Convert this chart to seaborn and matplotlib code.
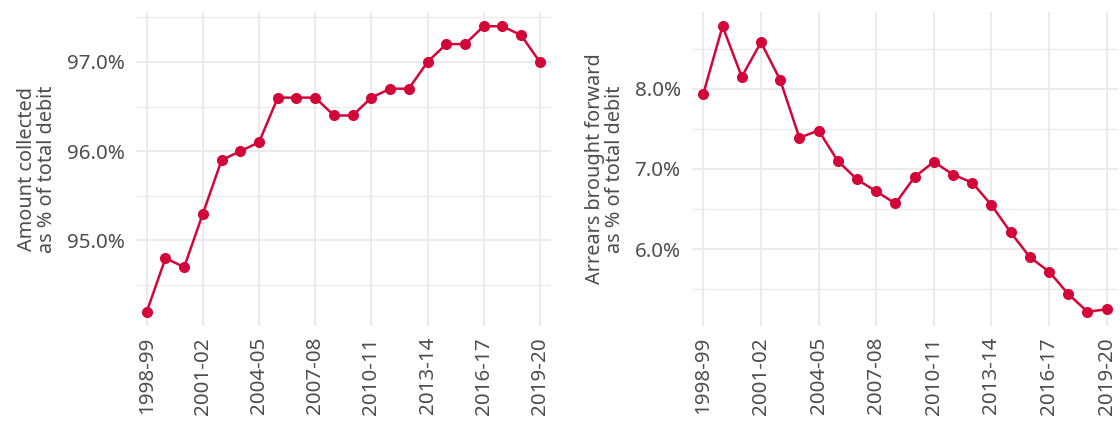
import seaborn as sns
import matplotlib.pyplot as plt
import pandas as pd
from matplotlib.ticker import FuncFormatter, MultipleLocator

# --- data ---
years = ['1998-99', '1999-00', '2000-01', '2001-02', '2002-03', '2003-04',
         '2004-05', '2005-06', '2006-07', '2007-08', '2008-09', '2009-10',
         '2010-11', '2011-12', '2012-13', '2013-14', '2014-15', '2015-16',
         '2016-17', '2017-18', '2018-19', '2019-20']
collected_pct = [94.2, 94.8, 94.7, 95.3, 95.9, 96.0, 96.1, 96.6, 96.6, 96.6, 96.4,
                 96.4, 96.6, 96.7, 96.7, 97.0, 97.2, 97.2, 97.4, 97.4, 97.3, 97.0]
arrears_pct = [7.94, 8.78, 8.15, 8.58, 8.11, 7.39, 7.48, 7.10, 6.87, 6.72, 6.57,
               6.90, 7.09, 6.93, 6.83, 6.55, 6.21, 5.90, 5.72, 5.44, 5.22, 5.25]
shown_years = years[::3]

RED = '#D3063A'
TEXT = '#4D4D4D'
GRID = '#EBEBEB'

sns.set_theme(style="white")
plt.rcParams['font.family'] = ['Noto Sans', 'DejaVu Sans']

df = pd.DataFrame({'year': years, 'collected': collected_pct, 'arrears': arrears_pct})
df['pos'] = range(len(years))

fig = plt.figure(figsize=(11.2, 4.21), dpi=100)
ax1 = fig.add_axes([0.121, 0.2257, 0.371, 0.7458])
ax2 = fig.add_axes([0.6177, 0.2257, 0.3807, 0.7458])


def style_panel(ax, col, ylabel, major_ticks):
    sns.lineplot(data=df, x='pos', y=col, ax=ax, color=RED, linewidth=1.8,
                 marker='o', markersize=8, markeredgewidth=0, zorder=3)
    vals = df[col]
    rng = vals.max() - vals.min()
    ax.set_ylim(vals.min() - 0.05 * rng, vals.max() + 0.05 * rng)
    ax.set_xlim(-0.6, len(years) - 1 + 0.6)

    ax.set_yticks(major_ticks)
    ax.yaxis.set_minor_locator(MultipleLocator(0.5))
    ax.yaxis.set_major_formatter(FuncFormatter(lambda v, _: f'{v:.1f}%'))
    ax.set_xticks(range(0, len(years), 3))
    ax.set_xticklabels(shown_years, rotation=90)

    ax.grid(True, which='major', axis='both', color=GRID, linewidth=1.5, zorder=0)
    ax.grid(True, which='minor', axis='y', color=GRID, linewidth=0.9, zorder=0)
    ax.set_axisbelow(True)
    for s in ax.spines.values():
        s.set_visible(False)
    ax.tick_params(axis='both', which='both', length=0, labelsize=14.8, labelcolor=TEXT)
    ax.tick_params(axis='y', pad=8)
    ax.tick_params(axis='x', pad=8)
    ax.set_xlabel('')
    ax.set_ylabel(ylabel, fontsize=14.3, color=TEXT, linespacing=1.0, labelpad=7)


style_panel(ax1, 'collected', 'Amount collected\nas % of total debit', [95, 96, 97])
style_panel(ax2, 'arrears', 'Arrears brought forward\nas % of total debit', [6, 7, 8])

plt.savefig('out.png', dpi=100)
